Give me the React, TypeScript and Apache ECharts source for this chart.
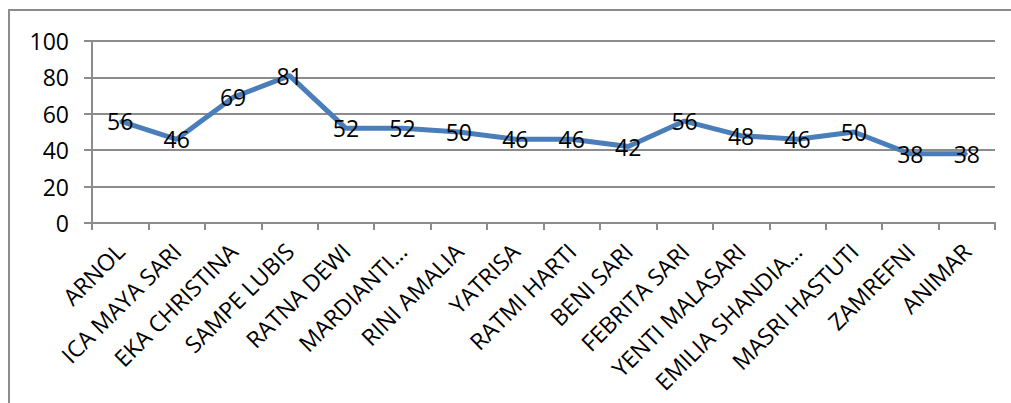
import React, { useEffect, useRef } from "react";
import * as echarts from "echarts";

const categories = [
  "ARNOL",
  "ICA MAYA SARI",
  "EKA CHRISTINA",
  "SAMPE LUBIS",
  "RATNA DEWI",
  "MARDIANTI...",
  "RINI AMALIA",
  "YATRISA",
  "RATMI HARTI",
  "BENI SARI",
  "FEBRITA SARI",
  "YENTI MALASARI",
  "EMILIA SHANDIA...",
  "MASRI HASTUTI",
  "ZAMREFNI",
  "ANIMAR",
];
const values = [56, 46, 69, 81, 52, 52, 50, 46, 46, 42, 56, 48, 46, 50, 38, 38];
const yMin = 0;
const yMax = 100;
const yInterval = 20;

const FONT = "Open Sans";

export default function App() {
  const ref = useRef<HTMLDivElement>(null);
  useEffect(() => {
    document.body.style.margin = "0";
    if (!ref.current) return;
    const chart = echarts.init(ref.current, null, { renderer: "svg" });
    chart.setOption({
      animation: false,
      backgroundColor: "#ffffff",
      textStyle: { fontFamily: FONT },
      graphic: [
        {
          type: "rect",
          shape: { x: 9, y: 10, width: 1030, height: 430 },
          style: { fill: "none", stroke: "#8c8c8c", lineWidth: 2 },
          silent: true,
        },
      ],
      grid: { left: 92, right: 16, top: 41, bottom: 180 },
      xAxis: {
        type: "category",
        data: categories,
        boundaryGap: true,
        axisLine: { show: true, lineStyle: { color: "#8c8c8c", width: 2 } },
        axisTick: { show: true, length: 7, lineStyle: { color: "#8c8c8c", width: 2 } },
        axisLabel: {
          rotate: 45,
          interval: 0,
          margin: 24,
          color: "#000000",
          fontFamily: FONT,
          fontSize: 23,
        },
        splitLine: { show: false },
      },
      yAxis: {
        type: "value",
        min: yMin,
        max: yMax,
        interval: yInterval,
        axisLine: { show: true, lineStyle: { color: "#8c8c8c", width: 2 } },
        axisTick: { show: true, length: 8, lineStyle: { color: "#8c8c8c", width: 2 } },
        axisLabel: {
          margin: 23,
          color: "#000000",
          fontFamily: FONT,
          fontSize: 23,
        },
        splitLine: { show: true, lineStyle: { color: "#8c8c8c", width: 2 } },
      },
      series: [
        {
          type: "line",
          data: values,
          symbol: "circle",
          symbolSize: 2,
          showSymbol: true,
          lineStyle: { color: "#4a7ebb", width: 5 },
          itemStyle: { color: "#4a7ebb" },
          label: {
            show: true,
            position: "inside",
            color: "#000000",
            fontFamily: FONT,
            fontSize: 23,
          },
        },
      ],
    });
    return () => chart.dispose();
  }, []);
  return <div ref={ref} style={{ width: 1011, height: 403 }} />;
}
